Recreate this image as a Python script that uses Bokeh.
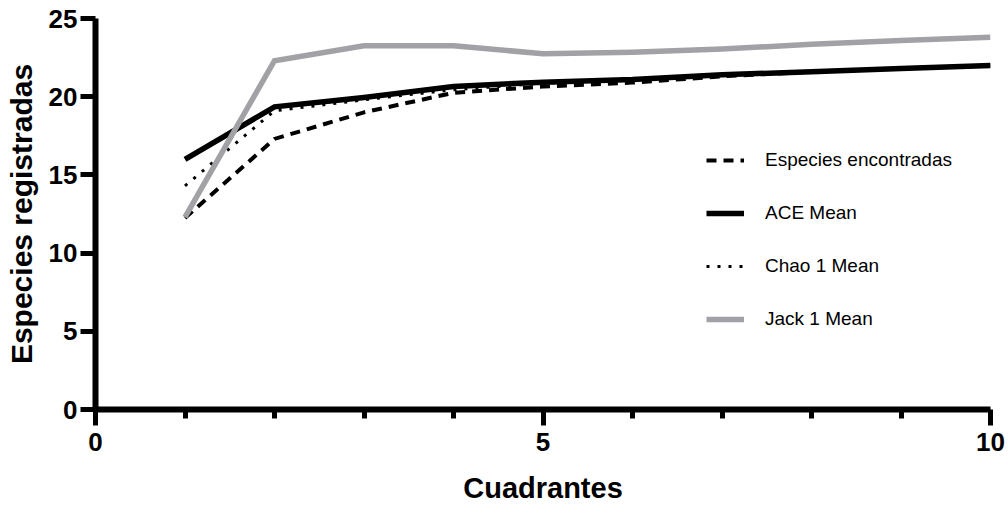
from bokeh.plotting import figure
from bokeh.models import FixedTicker, Legend, LegendItem, Range1d
from bokeh.embed import file_html
from bokeh.resources import INLINE

cuadrantes = [1, 2, 3, 4, 5, 6, 7, 8, 9, 10]
especies = [12.25, 17.3, 19.0, 20.25, 20.65, 20.9, 21.3, 21.6, 21.8, 22.0]
ace = [16.0, 19.35, 19.95, 20.65, 20.93, 21.1, 21.4, 21.6, 21.8, 22.0]
chao = [14.3, 19.1, 19.8, 20.45, 20.85, 21.1, 21.4, 21.6, 21.8, 22.0]
jack = [12.3, 22.3, 23.25, 23.25, 22.75, 22.85, 23.05, 23.35, 23.6, 23.8]

x_major = [0, 5, 10]
x_minor = [1, 2, 3, 4, 6, 7, 8, 9]
y_major = [0, 5, 10, 15, 20, 25]

FONT = "Liberation Sans"
GRAY = "#A2A2A6"

p = figure(width=1008, height=516, output_backend="svg", toolbar_location=None,
           x_range=Range1d(0, 10), y_range=Range1d(0, 25),
           min_border_left=95, min_border_right=18, min_border_top=18,
           min_border_bottom=107)
p.outline_line_color = None
p.xgrid.visible = False
p.ygrid.visible = False
p.background_fill_color = "white"
p.border_fill_color = "white"

r1 = p.line(cuadrantes, especies, line_color="black", line_width=4, line_dash="10 7", line_join="miter")
r2 = p.line(cuadrantes, ace, line_color="black", line_width=5.5, line_join="miter")
r3 = p.line(cuadrantes, chao, line_color="black", line_width=3, line_dash="3 8", line_join="miter")
r4 = p.line(cuadrantes, jack, line_color=GRAY, line_width=5.5, line_join="miter")

# x axis
xa = p.xaxis[0]
xa.ticker = FixedTicker(ticks=x_major, minor_ticks=x_minor)
xa.axis_line_width = 6
xa.major_tick_line_width = 5
xa.minor_tick_line_width = 5
xa.major_tick_in = 0
xa.major_tick_out = 16
xa.minor_tick_in = 0
xa.minor_tick_out = 9
xa.major_label_standoff = 7
xa.major_label_text_font = FONT
xa.major_label_text_font_style = "bold"
xa.major_label_text_font_size = "26px"
xa.major_label_text_color = "black"
xa.axis_label = "Cuadrantes"
xa.axis_label_text_font = FONT
xa.axis_label_text_font_style = "bold"
xa.axis_label_text_font_size = "29px"
xa.axis_label_text_color = "black"
xa.axis_label_standoff = 18

# y axis
ya = p.yaxis[0]
ya.ticker = FixedTicker(ticks=y_major, minor_ticks=[])
ya.axis_line_width = 6
ya.major_tick_line_width = 5
ya.major_tick_in = 0
ya.major_tick_out = 15
ya.minor_tick_in = 0
ya.minor_tick_out = 0
ya.major_label_standoff = 3
ya.major_label_text_font = FONT
ya.major_label_text_font_style = "bold"
ya.major_label_text_font_size = "26px"
ya.major_label_text_color = "black"
ya.axis_label = "Especies registradas"
ya.axis_label_text_font = FONT
ya.axis_label_text_font_style = "bold"
ya.axis_label_text_font_size = "30px"
ya.axis_label_text_color = "black"
ya.axis_label_standoff = 8

legend = Legend(items=[
    LegendItem(label="Especies encontradas", renderers=[r1]),
    LegendItem(label="ACE Mean", renderers=[r2]),
    LegendItem(label="Chao 1 Mean", renderers=[r3]),
    LegendItem(label="Jack 1 Mean", renderers=[r4]),
], location=(611, 79))
legend.border_line_color = None
legend.background_fill_alpha = 0
legend.padding = 0
legend.margin = 0
legend.glyph_width = 38
legend.glyph_height = 22
legend.label_height = 22
legend.spacing = 31
legend.label_standoff = 21
legend.label_text_font = FONT
legend.label_text_font_size = "19px"
legend.label_text_color = "black"
legend.label_text_baseline = "middle"
p.add_layout(legend, "center")

open("out.html", "w").write(file_html(p, INLINE))
